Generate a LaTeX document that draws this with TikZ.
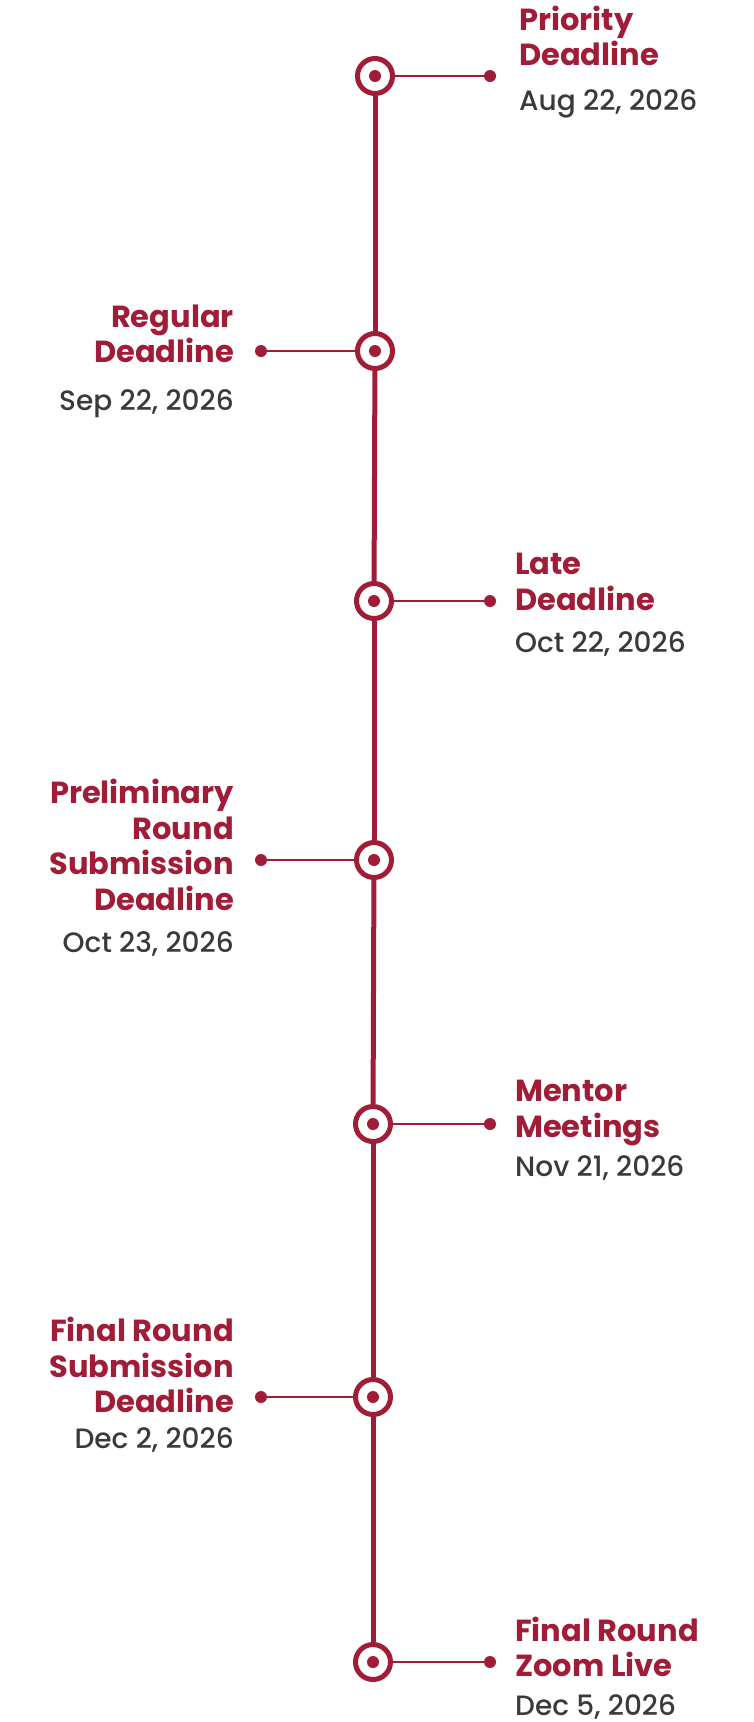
\documentclass[tikz,border=0pt]{standalone}
\usepackage{fontspec}
\setmainfont{Poppins}
\newfontfamily\datefont{Poppins}[UprightFont=* Medium]
\usetikzlibrary{positioning}
\definecolor{rot}{HTML}{A11D37}
\definecolor{dunkel}{HTML}{3A3A3A}
\tikzset{
  achse/.style={rot,line width=5pt},
  ast/.style={rot,line width=2.2pt},
  ring/.style={circle,draw=rot,fill=white,line width=5pt,minimum size=35pt,inner sep=0pt,
    path picture={\fill[rot] (path picture bounding box.center) circle (6pt);}},
  punkt/.style={circle,fill=rot,minimum size=12pt,inner sep=0pt},
  titel/.style={rot,font=\bfseries\fontsize{30.5}{35.5}\selectfont,inner sep=0pt},
  datum/.style={dunkel,font=\datefont\fontsize{28}{32}\selectfont,inner sep=0pt},
}

\begin{document}
\begin{tikzpicture}[x=1pt,y=-1pt]
  \useasboundingbox (0,0) rectangle (753,1722);
  % stations on the time line
  \node[ring] (m1) at (375,76) {};
  \node[ring] (m2) at (375,351) {};
  \node[ring] (m3) at (374,601) {};
  \node[ring] (m4) at (374,860) {};
  \node[ring] (m5) at (373,1124) {};
  \node[ring] (m6) at (373,1397) {};
  \node[ring] (m7) at (373,1662) {};
  \draw[achse] (m1)--(m2); \draw[achse] (m2)--(m3); \draw[achse] (m3)--(m4);
  \draw[achse] (m4)--(m5); \draw[achse] (m5)--(m6); \draw[achse] (m6)--(m7);
  % branches
  \node[punkt] (d1) at (490,76) {};
  \node[punkt] (d2) at (261,351) {};
  \node[punkt] (d3) at (490,601) {};
  \node[punkt] (d4) at (261,860) {};
  \node[punkt] (d5) at (490,1124) {};
  \node[punkt] (d6) at (261,1397) {};
  \node[punkt] (d7) at (490,1662) {};
  \draw[ast] (m1)--(d1); \draw[ast] (m2)--(d2); \draw[ast] (m3)--(d3);
  \draw[ast] (m4)--(d4); \draw[ast] (m5)--(d5); \draw[ast] (m6)--(d6);
  \draw[ast] (m7)--(d7);
  % labels
  \node[titel,align=left,anchor=west] (t1) at (519,36) {Priority\\Deadline};
  \node[datum,anchor=west] (s1) at (519,104) {Aug 22, 2026};
  \node[titel,align=right,anchor=east] (t2) at (234,334) {Regular\\Deadline};
  \node[datum,anchor=east] (s2) at (234,404) {Sep 22, 2026};
  \node[titel,align=left,anchor=west] (t3) at (515,582) {Late\\Deadline};
  \node[datum,anchor=west] (s3) at (515,644) {Oct 22, 2026};
  \node[titel,align=right,anchor=east] (t4) at (234,845) {Preliminary\\Round\\Submission\\Deadline};
  \node[datum,anchor=east] (s4) at (234,944) {Oct 23, 2026};
  \node[titel,align=left,anchor=west] (t5) at (515,1113) {Mentor\\Meetings};
  \node[datum,anchor=west] (s5) at (515,1168) {Nov 21, 2026};
  \node[titel,align=right,anchor=east] (t6) at (234,1365) {Final Round\\Submission\\Deadline};
  \node[datum,anchor=east] (s6) at (234,1440) {Dec 2, 2026};
  \node[titel,align=left,anchor=west] (t7) at (515,1647) {Final Round\\Zoom Live};
  \node[datum,anchor=west] (s7) at (515,1707) {Dec 5, 2026};
\end{tikzpicture}
\end{document}
